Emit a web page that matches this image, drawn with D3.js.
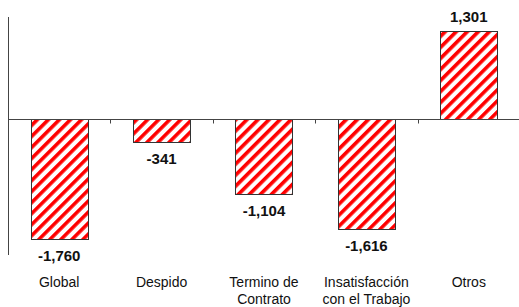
<!DOCTYPE html>
<html>
<head>
<meta charset="utf-8">
<script src="https://cdn.jsdelivr.net/npm/d3@7.9.0/dist/d3.min.js"></script>
<style>
  body { margin: 0; background: #fff; }
  svg { display: block; font-family: "Liberation Sans", Arial, sans-serif; }
</style>
</head>
<body>
<svg id="chart" width="519" height="307"></svg>
<script>
const categories = ["Global", "Despido", "Termino de\nContrato", "Insatisfacción\ncon el Trabajo", "Otros"];
const values = [-1760, -341, -1104, -1616, 1301];

const svg = d3.select("#chart");
const fmt = v => d3.format(",")(v).replace("\u2212", "-");

// red diagonal hatch
const defs = svg.append("defs");
const pat = defs.append("pattern")
  .attr("id", "stripes")
  .attr("patternUnits", "userSpaceOnUse")
  .attr("width", 7.8).attr("height", 7.8)
  .attr("patternTransform", "rotate(45)");
pat.append("rect").attr("width", 7.8).attr("height", 7.8).attr("fill", "#fff");
pat.append("rect").attr("width", 3.6).attr("height", 7.8).attr("fill", "#ff0000");

const x = d3.scaleBand().domain(categories).range([8, 520]).paddingInner(0.44).paddingOuter(0.22);
const y = d3.scaleLinear().domain([-2000, 1500]).range([255, 17]);

// y axis line
svg.append("line")
  .attr("x1", 8.5).attr("x2", 8.5)
  .attr("y1", y(1500)).attr("y2", y(-2000))
  .attr("stroke", "#444");

// bars
svg.selectAll("rect.bar")
  .data(values)
  .join("rect")
  .attr("class", "bar")
  .attr("x", (d, i) => Math.round(x(categories[i])) + 0.5)
  .attr("y", d => Math.round(y(Math.max(0, d))) + 0.5)
  .attr("width", Math.round(x.bandwidth()))
  .attr("height", d => Math.round(Math.abs(y(d) - y(0))))
  .attr("fill", "url(#stripes)")
  .attr("stroke", "#333")
  .attr("stroke-width", 1);

// zero line, ticks between categories
const zeroY = Math.round(y(0)) + 0.5;
svg.append("line")
  .attr("x1", 8).attr("x2", 519)
  .attr("y1", zeroY).attr("y2", zeroY)
  .attr("stroke", "#444");
const bounds = d3.range(0, categories.length).map(i => 8 + i * x.step());
svg.selectAll("line.tick")
  .data(bounds)
  .join("line")
  .attr("class", "tick")
  .attr("x1", d => Math.round(d) + 0.5).attr("x2", d => Math.round(d) + 0.5)
  .attr("y1", zeroY).attr("y2", zeroY + 4)
  .attr("stroke", "#444");

// value labels
svg.selectAll("text.val")
  .data(values)
  .join("text")
  .attr("class", "val")
  .attr("x", (d, i) => x(categories[i]) + x.bandwidth() / 2)
  .attr("y", d => d < 0 ? y(d) + 22 : y(d) - 8.5)
  .attr("text-anchor", "middle")
  .attr("font-size", 15)
  .attr("font-weight", "bold")
  .attr("fill", "#111")
  .text(d => fmt(d));

// category labels
const cat = svg.selectAll("text.cat")
  .data(categories)
  .join("text")
  .attr("class", "cat")
  .attr("text-anchor", "middle")
  .attr("font-size", 14)
  .attr("fill", "#111");
cat.each(function(d) {
  const cx = x(d) + x.bandwidth() / 2;
  d.split("\n").forEach((line, j) => {
    d3.select(this).append("tspan")
      .attr("x", cx)
      .attr("y", 287 + j * 17)
      .text(line);
  });
});
</script>
</body>
</html>
